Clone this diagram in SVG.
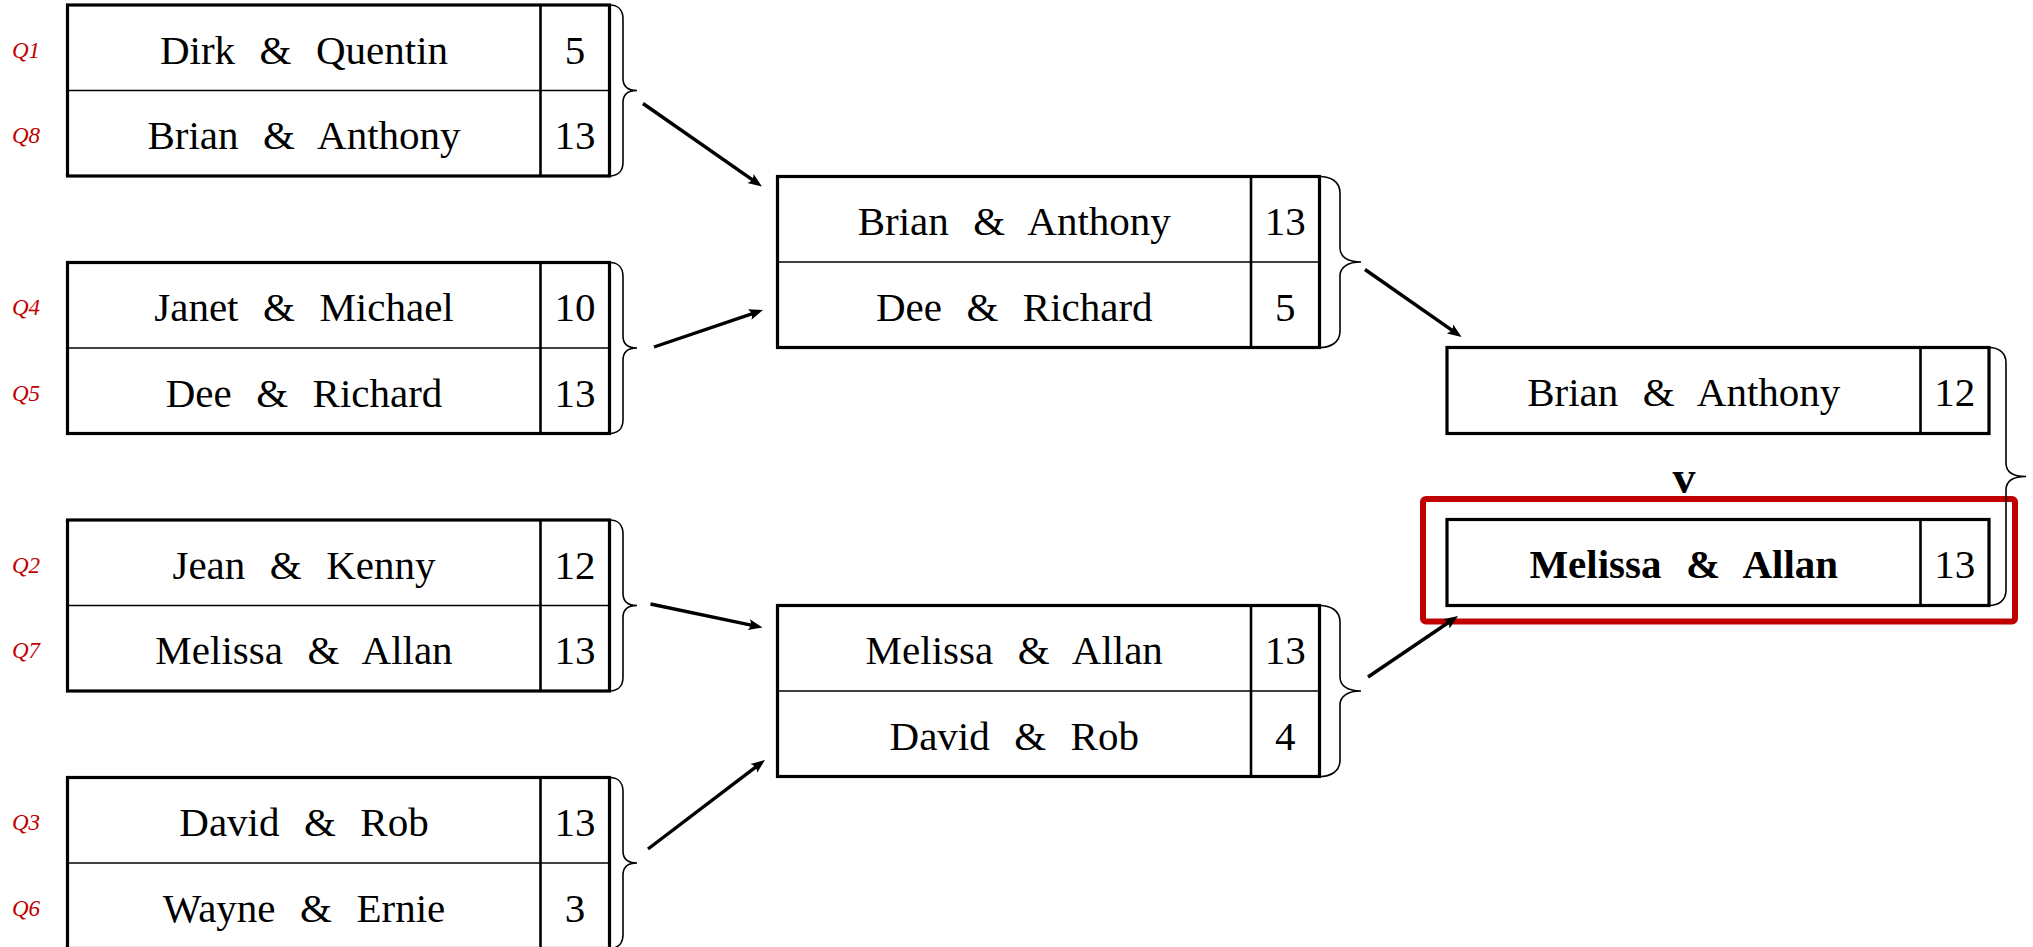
<svg xmlns="http://www.w3.org/2000/svg" width="2033" height="947" viewBox="0 0 2033 947">
<defs>
<style>
.box{fill:#fff;stroke:#000;stroke-width:3.2}
.div{stroke:#000;stroke-width:2.6}
.row{stroke:#000;stroke-width:1.4}
.name,.score{font-family:"Liberation Serif","Times New Roman",serif;font-size:41px;fill:#000;text-anchor:middle}
.name{word-spacing:2px}
.win{font-weight:bold}
.q{font-family:"Liberation Serif","Times New Roman",serif;font-style:italic;font-size:23px;fill:#C00000}
.brace{fill:none;stroke:#000;stroke-width:1.6}
.conn{stroke:#000;stroke-width:3.4;fill:none;marker-end:url(#arr)}
.hl{fill:none;stroke:#C00000;stroke-width:6}
.vs{font-family:"Liberation Serif","Times New Roman",serif;font-size:46px;font-weight:bold;fill:#000;text-anchor:middle}
</style>
<marker id="arr" markerUnits="userSpaceOnUse" viewBox="-10 -10 20 20" markerWidth="20" markerHeight="20" refX="0" refY="0" orient="auto" overflow="visible">
<path d="M8,0 L-6,-5.5 Q-2,0 -6,5.5 Z" fill="#000"/>
</marker>
</defs>
<rect width="2033" height="947" fill="#fff"/>

<g id="qlabels">
<text class="q" x="12" y="58">Q1</text>
<text class="q" x="12" y="143">Q8</text>
<text class="q" x="12" y="315">Q4</text>
<text class="q" x="12" y="401">Q5</text>
<text class="q" x="12" y="573">Q2</text>
<text class="q" x="12" y="658">Q7</text>
<text class="q" x="12" y="830">Q3</text>
<text class="q" x="12" y="916">Q6</text>
</g>

<g id="r1m1">
<rect class="box" x="67.5" y="5" width="542" height="171"/>
<line class="row" x1="67.5" y1="90.5" x2="609.5" y2="90.5"/>
<line class="div" x1="540.5" y1="5" x2="540.5" y2="176"/>
<text class="name" x="304" y="63.75" xml:space="preserve">Dirk  &amp;  Quentin</text>
<text class="score" x="575" y="63.75">5</text>
<text class="name" x="304" y="149.25" xml:space="preserve">Brian  &amp;  Anthony</text>
<text class="score" x="575" y="149.25">13</text>
<path class="brace" d="M609.5,5 C617,5 623,9 623,19 L623,78.5 C623,86.5 628,90.5 637,90.5 C628,90.5 623,94.5 623,102.5 L623,162 C623,172 617,176 609.5,176"/>
</g>

<g id="r1m2">
<rect class="box" x="67.5" y="262.5" width="542" height="171"/>
<line class="row" x1="67.5" y1="348" x2="609.5" y2="348"/>
<line class="div" x1="540.5" y1="262.5" x2="540.5" y2="433.5"/>
<text class="name" x="304" y="321.25" xml:space="preserve">Janet  &amp;  Michael</text>
<text class="score" x="575" y="321.25">10</text>
<text class="name" x="304" y="406.75" xml:space="preserve">Dee  &amp;  Richard</text>
<text class="score" x="575" y="406.75">13</text>
<path class="brace" d="M609.5,262.5 C617,262.5 623,266.5 623,276.5 L623,336 C623,344 628,348 637,348 C628,348 623,352 623,360 L623,419.5 C623,429.5 617,433.5 609.5,433.5"/>
</g>

<g id="r1m3">
<rect class="box" x="67.5" y="520" width="542" height="171"/>
<line class="row" x1="67.5" y1="605.5" x2="609.5" y2="605.5"/>
<line class="div" x1="540.5" y1="520" x2="540.5" y2="691"/>
<text class="name" x="304" y="578.75" xml:space="preserve">Jean  &amp;  Kenny</text>
<text class="score" x="575" y="578.75">12</text>
<text class="name" x="304" y="664.25" xml:space="preserve">Melissa  &amp;  Allan</text>
<text class="score" x="575" y="664.25">13</text>
<path class="brace" d="M609.5,520 C617,520 623,524 623,534 L623,593.5 C623,601.5 628,605.5 637,605.5 C628,605.5 623,609.5 623,617.5 L623,677 C623,687 617,691 609.5,691"/>
</g>

<g id="r1m4">
<rect class="box" x="67.5" y="777.5" width="542" height="171"/>
<line class="row" x1="67.5" y1="863" x2="609.5" y2="863"/>
<line class="div" x1="540.5" y1="777.5" x2="540.5" y2="948.5"/>
<text class="name" x="304" y="836.25" xml:space="preserve">David  &amp;  Rob</text>
<text class="score" x="575" y="836.25">13</text>
<text class="name" x="304" y="921.75" xml:space="preserve">Wayne  &amp;  Ernie</text>
<text class="score" x="575" y="921.75">3</text>
<path class="brace" d="M609.5,777.5 C617,777.5 623,781.5 623,791.5 L623,851 C623,859 628,863 637,863 C628,863 623,867 623,875 L623,934.5 C623,944.5 617,948.5 609.5,948.5"/>
</g>

<g id="r2m1">
<rect class="box" x="777.5" y="176.5" width="542" height="171"/>
<line class="row" x1="777.5" y1="262" x2="1319.5" y2="262"/>
<line class="div" x1="1251" y1="176.5" x2="1251" y2="347.5"/>
<text class="name" x="1014.25" y="235.25" xml:space="preserve">Brian  &amp;  Anthony</text>
<text class="score" x="1285.25" y="235.25">13</text>
<text class="name" x="1014.25" y="320.75" xml:space="preserve">Dee  &amp;  Richard</text>
<text class="score" x="1285.25" y="320.75">5</text>
<path class="brace" d="M1319.5,176.5 C1330,176.5 1340,181 1340,193 L1340,248 C1340,257 1348,262 1361,262 C1348,262 1340,267 1340,276 L1340,331 C1340,343 1330,347.5 1319.5,347.5"/>
</g>

<g id="r2m2">
<rect class="box" x="777.5" y="605.5" width="542" height="171"/>
<line class="row" x1="777.5" y1="691" x2="1319.5" y2="691"/>
<line class="div" x1="1251" y1="605.5" x2="1251" y2="776.5"/>
<text class="name" x="1014.25" y="664.25" xml:space="preserve">Melissa  &amp;  Allan</text>
<text class="score" x="1285.25" y="664.25">13</text>
<text class="name" x="1014.25" y="749.75" xml:space="preserve">David  &amp;  Rob</text>
<text class="score" x="1285.25" y="749.75">4</text>
<path class="brace" d="M1319.5,605.5 C1330,605.5 1340,610 1340,622 L1340,677 C1340,686 1348,691 1361,691 C1348,691 1340,696 1340,705 L1340,760 C1340,772 1330,776.5 1319.5,776.5"/>
</g>

<g id="final-runnerup">
<rect class="box" x="1447" y="347.5" width="542" height="86"/>
<line class="div" x1="1920.5" y1="347.5" x2="1920.5" y2="433.5"/>
<text class="name" x="1683.75" y="406.25" xml:space="preserve">Brian  &amp;  Anthony</text>
<text class="score" x="1954.75" y="406.25">12</text>
</g>

<g id="final-vs">
<text class="vs" x="1684" y="492.5">v</text>
</g>

<g id="final-winner">
<rect class="box" x="1447" y="519.5" width="542" height="86"/>
<line class="div" x1="1920.5" y1="519.5" x2="1920.5" y2="605.5"/>
<text class="name win" x="1683.75" y="578.25" xml:space="preserve">Melissa  &amp;  Allan</text>
<text class="score" x="1954.75" y="578.25">13</text>
<rect class="hl" x="1423" y="499" width="592" height="122.5" rx="3"/>
</g>

<g id="final-brace">
<path class="brace" d="M1989,347.5 C1998,347.5 2006,352 2006,363 L2006,463 C2006,472 2013,476.5 2026,476.5 C2013,476.5 2006,481 2006,490 L2006,590 C2006,601 1998,605.5 1989,605.5"/>
</g>

<g id="connectors">
<line class="conn" x1="643" y1="103.5" x2="755.4" y2="181.9"/>
<line class="conn" x1="654" y1="347" x2="755.4" y2="312.6"/>
<line class="conn" x1="650.5" y1="604" x2="754.7" y2="625.9"/>
<line class="conn" x1="648" y1="849" x2="758.6" y2="764.8"/>
<line class="conn" x1="1365" y1="269.5" x2="1455" y2="332.4"/>
<line class="conn" x1="1368" y1="677" x2="1451.4" y2="620.5"/>
</g>
</svg>
